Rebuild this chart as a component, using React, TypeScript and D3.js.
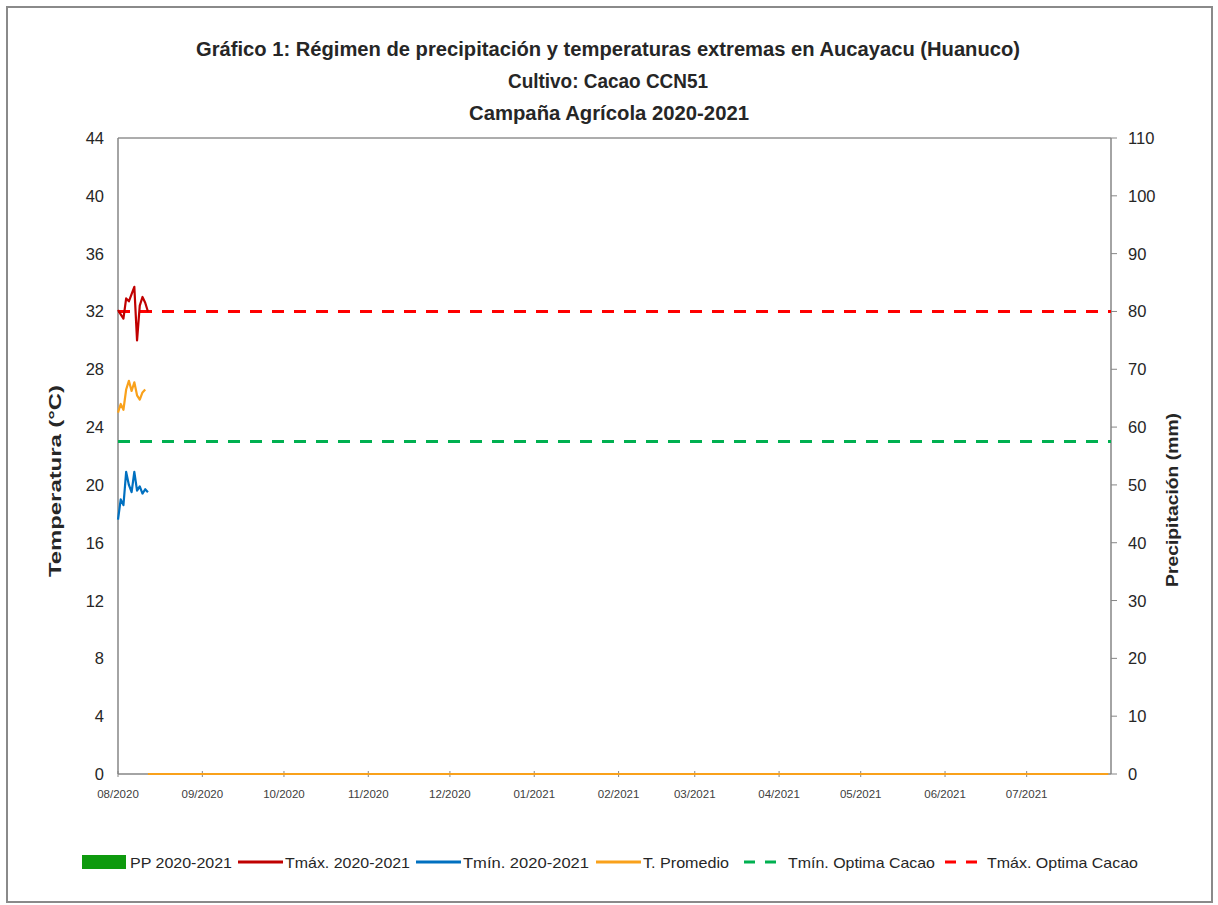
import React from 'react';
import * as d3 from 'd3';

// Serie diaria desde 01/08/2020
const inicioSerie = new Date(2020, 7, 1);
const tMax = [32.1, 31.8, 31.5, 32.9, 32.7, 33.2, 33.7, 30.0, 32.4, 33.0, 32.6, 32.0];
const tMin = [17.6, 19.0, 18.6, 20.9, 20.0, 19.5, 20.9, 19.6, 19.9, 19.4, 19.7, 19.5];
const tProm = [25.0, 25.6, 25.2, 26.6, 27.2, 26.5, 27.1, 26.2, 25.9, 26.4, 26.6];
// T. Promedio sin dato registrado como 0 hasta el final de la campaña
const tPromCero = [
  { desde: new Date(2020, 7, 12), hasta: new Date(2021, 6, 31), valor: 0 },
];
const precipitacion: { fecha: Date; mm: number }[] = [];
const tMinOptima = 23;
const tMaxOptima = 32;

const tempTicks = [0, 4, 8, 12, 16, 20, 24, 28, 32, 36, 40, 44];
const ppTicks = [0, 10, 20, 30, 40, 50, 60, 70, 80, 90, 100, 110];

const W = 1218;
const H = 905;
const plot = { left: 118, right: 1111, top: 138, bottom: 774 };

const C = {
  tmax: '#C00000',
  tmin: '#0070C0',
  tprom: '#F9A11B',
  optMin: '#00B050',
  optMax: '#FF0000',
  pp: '#0E9A0E',
  axis: '#868686',
  text: '#262626',
};

const font = '"Liberation Sans", Arial, sans-serif';

export default function App() {
  const x = d3.scaleTime()
    .domain([new Date(2020, 7, 1), new Date(2021, 7, 1)])
    .range([plot.left, plot.right]);
  const yT = d3.scaleLinear().domain([0, 44]).range([plot.bottom, plot.top]);
  const yP = d3.scaleLinear().domain([0, 110]).range([plot.bottom, plot.top]);

  const dia = (i: number) => d3.timeDay.offset(inicioSerie, i);
  const linea = d3.line<number>().x((_, i) => x(dia(i))).y(d => yT(d));

  const meses = d3.timeMonth.range(new Date(2020, 7, 1), new Date(2021, 7, 1));
  const fmt = d3.timeFormat('%m/%Y');

  const legend = [
    { tipo: 'box', color: C.pp, label: 'PP 2020-2021', x: 82, tx: 130, tw: 102 },
    { tipo: 'line', color: C.tmax, label: 'Tmáx. 2020-2021', x: 238, tx: 285, tw: 125 },
    { tipo: 'line', color: C.tmin, label: 'Tmín. 2020-2021', x: 416, tx: 463, tw: 126 },
    { tipo: 'line', color: C.tprom, label: 'T. Promedio', x: 596, tx: 643, tw: 86 },
    { tipo: 'dash', color: C.optMin, label: 'Tmín. Optima Cacao', x: 744, tx: 788, tw: 147 },
    { tipo: 'dash', color: C.optMax, label: 'Tmáx. Optima Cacao', x: 945, tx: 987, tw: 151 },
  ];

  return (
    <svg width={W} height={H} style={{ position: 'absolute', left: 0, top: 0, background: '#fff' }}
      fontFamily={font}>
      <rect x={7} y={7} width={1205} height={895} fill="#fff" stroke="#8a8a8a" strokeWidth={2} />

      {/* títulos */}
      <g fontWeight="bold" fill={C.text} textAnchor="middle" fontSize={20}>
        <text x={608} y={56} textLength={824} lengthAdjust="spacingAndGlyphs">
          Gráfico 1: Régimen de precipitación y temperaturas extremas en Aucayacu (Huanuco)
        </text>
        <text x={608} y={88} textLength={200} lengthAdjust="spacingAndGlyphs">Cultivo: Cacao CCN51</text>
        <text x={609} y={120} textLength={280} lengthAdjust="spacingAndGlyphs">Campaña Agrícola 2020-2021</text>
      </g>

      {/* marco del área */}
      <line x1={plot.left} x2={plot.right} y1={plot.top} y2={plot.top} stroke="#5a5a5a" strokeWidth={1} />
      <line x1={plot.left} x2={plot.left} y1={plot.top} y2={plot.bottom} stroke={C.axis} strokeWidth={1.5} />
      <line x1={plot.right} x2={plot.right} y1={plot.top} y2={plot.bottom} stroke={C.axis} strokeWidth={1.5} />
      <line x1={plot.left} x2={plot.right} y1={plot.bottom} y2={plot.bottom} stroke={C.axis} strokeWidth={1.5} />

      {/* eje izquierdo */}
      {tempTicks.map(t => (
        <text key={'l' + t} x={104} y={yT(t) + 6} textAnchor="end" fontSize={16.5} fill={C.text}>{t}</text>
      ))}
      {/* eje derecho */}
      {ppTicks.map(t => (
        <g key={'r' + t}>
          <line x1={plot.right} x2={plot.right + 6} y1={yP(t)} y2={yP(t)} stroke={C.axis} />
          <text x={1128} y={yP(t) + 6} fontSize={16.5} fill={C.text}>{t}</text>
        </g>
      ))}
      {/* eje x */}
      {meses.map(m => (
        <g key={m.toISOString()}>
          <line x1={x(m)} x2={x(m)} y1={plot.bottom - 3} y2={plot.bottom + 3} stroke={C.axis} />
          <text x={x(m)} y={plot.bottom + 24} textAnchor="middle" fontSize={11.5} fill="#404040">{fmt(m)}</text>
        </g>
      ))}

      <text transform="translate(61,481) rotate(-90)" textAnchor="middle"
        fontWeight="bold" fontSize={16} fill={C.text} textLength={192} lengthAdjust="spacingAndGlyphs">Temperatura (°C)</text>
      <text transform="translate(1178,500) rotate(-90)" textAnchor="middle"
        fontWeight="bold" fontSize={16} fill={C.text} textLength={174} lengthAdjust="spacingAndGlyphs">Precipitación (mm)</text>

      {/* precipitación */}
      {precipitacion.map(p => (
        <rect key={p.fecha.toISOString()} x={x(p.fecha) - 1} width={2} y={yP(p.mm)}
          height={plot.bottom - yP(p.mm)} fill={C.pp} />
      ))}

      {/* T. Promedio en cero */}
      {tPromCero.map((s, i) => (
        <line key={'z' + i} x1={x(s.desde)} x2={x(s.hasta)} y1={yT(s.valor)} y2={yT(s.valor)}
          stroke={C.tprom} strokeWidth={2} />
      ))}

      {/* umbrales óptimos */}
      <line x1={plot.left} x2={plot.right} y1={yT(tMinOptima)} y2={yT(tMinOptima)}
        stroke={C.optMin} strokeWidth={3} strokeDasharray="12 10" />
      <line x1={plot.left} x2={plot.right} y1={yT(tMaxOptima)} y2={yT(tMaxOptima)}
        stroke={C.optMax} strokeWidth={3} strokeDasharray="12 10" />

      {/* series de temperatura */}
      <path d={linea(tMin) ?? ''} fill="none" stroke={C.tmin} strokeWidth={2.2} strokeLinejoin="round" />
      <path d={linea(tProm) ?? ''} fill="none" stroke={C.tprom} strokeWidth={2.2} strokeLinejoin="round" />
      <path d={linea(tMax) ?? ''} fill="none" stroke={C.tmax} strokeWidth={2.2} strokeLinejoin="round" />

      {/* leyenda */}
      {legend.map(l => (
        <g key={l.label}>
          {l.tipo === 'box' && <rect x={l.x} y={855} width={44} height={14} fill={l.color} />}
          {l.tipo === 'line' && <line x1={l.x} x2={l.x + 45} y1={862} y2={862} stroke={l.color} strokeWidth={3} />}
          {l.tipo === 'dash' && <line x1={l.x} x2={l.x + 39} y1={862} y2={862} stroke={l.color} strokeWidth={3}
            strokeDasharray="11 10" />}
          <text x={l.tx} y={868} fontSize={15} fill={C.text} textLength={l.tw} lengthAdjust="spacingAndGlyphs">{l.label}</text>
        </g>
      ))}
    </svg>
  );
}
